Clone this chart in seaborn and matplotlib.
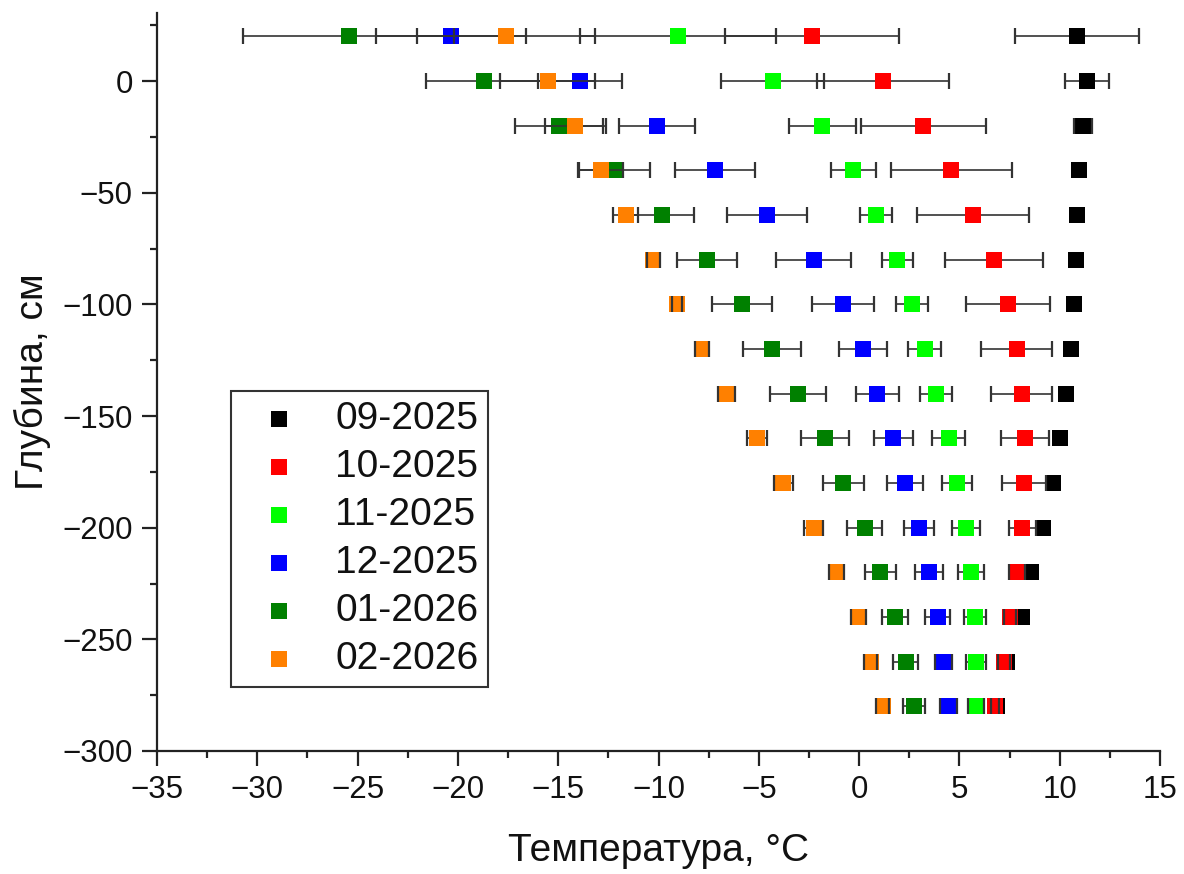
import numpy as np
import pandas as pd
import matplotlib
matplotlib.use("Agg")
import matplotlib.pyplot as plt
from matplotlib.ticker import MultipleLocator
import seaborn as sns

depth = [20, 0, -20, -40, -60, -80, -100, -120, -140, -160, -180, -200, -220, -240, -260, -280]

series_names = ["09-2025", "10-2025", "11-2025", "12-2025", "01-2026", "02-2026"]
series_colors = ["#000000", "#FF0000", "#00FF00", "#0000FF", "#008000", "#FF8000"]

t_0925 = [10.86, 11.35, 11.15, 10.97, 10.85, 10.79, 10.72, 10.54, 10.32, 10.02, 9.66, 9.16, 8.56, 8.11, 7.35, 6.85]
e_0925 = [3.09, 1.10, 0.45, 0.0, 0.0, 0.0, 0.0, 0.0, 0.0, 0.0, 0.0, 0.0, 0.0, 0.0, 0.0, 0.0]

t_1025 = [-2.34, 1.18, 3.21, 4.59, 5.70, 6.71, 7.42, 7.85, 8.10, 8.28, 8.21, 8.13, 7.87, 7.53, 7.20, 6.78]
e_1025 = [4.35, 3.29, 3.13, 3.02, 2.79, 2.44, 2.10, 1.79, 1.51, 1.20, 1.10, 0.68, 0.38, 0.30, 0.30, 0.20]

t_1125 = [-9.02, -4.30, -1.84, -0.28, 0.85, 1.91, 2.63, 3.27, 3.84, 4.47, 4.87, 5.33, 5.58, 5.78, 5.83, 5.83]
e_1125 = [4.90, 2.57, 1.67, 1.12, 0.81, 0.77, 0.80, 0.82, 0.81, 0.82, 0.76, 0.71, 0.66, 0.56, 0.50, 0.38]

t_1225 = [-20.33, -13.91, -10.08, -7.18, -4.60, -2.27, -0.81, 0.18, 0.91, 1.71, 2.29, 2.98, 3.47, 3.91, 4.21, 4.46]
e_1225 = [3.74, 2.09, 1.91, 1.98, 2.00, 1.88, 1.55, 1.19, 1.07, 0.97, 0.88, 0.75, 0.70, 0.60, 0.43, 0.41]

t_0126 = [-25.45, -18.71, -14.95, -12.20, -9.84, -7.58, -5.83, -4.34, -3.03, -1.71, -0.78, 0.28, 1.05, 1.79, 2.33, 2.74]
e_0126 = [5.27, 2.90, 2.19, 1.76, 1.60, 1.50, 1.48, 1.44, 1.39, 1.19, 1.01, 0.88, 0.78, 0.67, 0.63, 0.56]

t_0226 = [-17.61, -15.52, -14.14, -12.88, -11.63, -10.25, -9.09, -7.83, -6.60, -5.10, -3.77, -2.27, -1.11, -0.02, 0.58, 1.17]
e_0226 = [4.43, 2.37, 1.52, 1.12, 0.62, 0.30, 0.25, 0.33, 0.42, 0.49, 0.49, 0.49, 0.37, 0.36, 0.32, 0.32]

temps = [t_0925, t_1025, t_1125, t_1225, t_0126, t_0226]
errs = [e_0925, e_1025, e_1125, e_1225, e_0126, e_0226]

frames = []
for name, t, e in zip(series_names, temps, errs):
    frames.append(pd.DataFrame({"series": name, "depth": depth, "T": t, "err": e}))
df = pd.concat(frames, ignore_index=True)

sns.set_style("ticks")
plt.rcParams["font.family"] = ["Liberation Sans", "DejaVu Sans"]

fig = plt.figure(figsize=(11.84, 8.74), dpi=100)
ax = fig.add_axes([157 / 1184, 1 - 751 / 874, (1160 - 157) / 1184, (751 - 13) / 874])

ecol = "#333333"
for i, (name, color) in enumerate(zip(series_names, series_colors)):
    sub = df[df["series"] == name]
    # error bar lines (under the marker)
    ax.errorbar(sub["T"], sub["depth"], xerr=sub["err"], fmt="none",
                ecolor=ecol, elinewidth=1.2, capsize=0, zorder=3 + 3 * i)
    sns.scatterplot(data=sub, x="T", y="depth", ax=ax, color=color, marker="s",
                    s=125, linewidth=0, label=name, zorder=4 + 3 * i)
    # caps (drawn over the marker), only where an error exists
    cap = sub[sub["err"] > 0]
    ax.errorbar(cap["T"], cap["depth"], xerr=cap["err"], fmt="none",
                ecolor=ecol, elinewidth=0, capsize=5.6, capthick=1.6,
                zorder=5 + 3 * i)

ax.set_xlim(-35, 15)
ax.set_ylim(-300, 30.5)
ax.xaxis.set_major_locator(MultipleLocator(5))
ax.xaxis.set_minor_locator(MultipleLocator(2.5))
ax.yaxis.set_major_locator(MultipleLocator(50))
ax.yaxis.set_minor_locator(MultipleLocator(25))

for side in ["top", "right"]:
    ax.spines[side].set_visible(False)
for side in ["left", "bottom"]:
    ax.spines[side].set_linewidth(1.6)
    ax.spines[side].set_color("#222222")

ax.tick_params(axis="both", which="major", direction="out", length=10.5, width=1.6,
               labelsize=22.5, pad=7, colors="#222222", labelcolor="#111111")
ax.tick_params(axis="both", which="minor", direction="out", length=5, width=1.6,
               colors="#222222")

ax.set_xlabel("Температура, °C", fontsize=28, labelpad=20, color="#111111")
ax.set_ylabel("Глубина, см", fontsize=28, labelpad=8, color="#111111")

leg = ax.legend(loc="lower left", bbox_to_anchor=(0.074, 0.087), fontsize=28,
                frameon=True, fancybox=False, framealpha=1, edgecolor="#333333",
                handlelength=1.97, handletextpad=0.45, borderpad=0.25,
                labelspacing=0.31, markerscale=1.0, borderaxespad=0)
leg.get_frame().set_linewidth(1.5)
for txt in leg.get_texts():
    txt.set_color("#111111")

fig.savefig("out.png", dpi=100)
